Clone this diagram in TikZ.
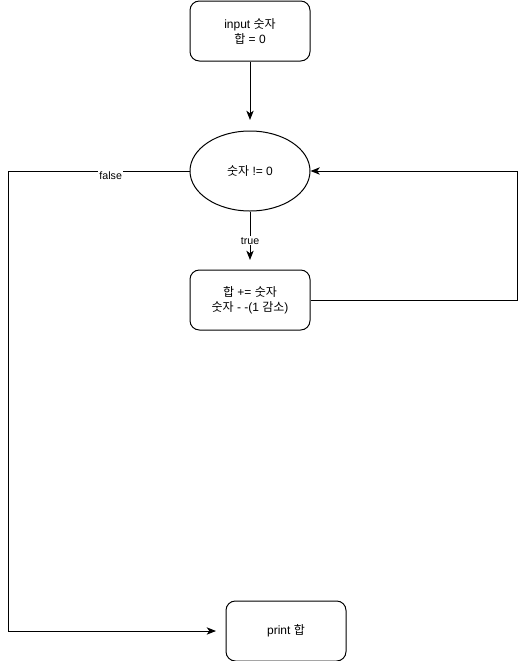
\documentclass[tikz,border=0pt]{standalone}
\usepackage{fontspec}
\setmainfont{Liberation Sans}
\newfontfamily\kr{Noto Sans CJK KR}
\usetikzlibrary{shapes.geometric,arrows.meta}

\begin{document}
\begin{tikzpicture}[x=0.75pt,y=0.75pt,yscale=-1,xscale=1,
  box/.style={draw,line width=0.75pt,rounded corners=7pt,minimum width=90pt,minimum height=45pt,inner sep=0pt,align=center,font=\fontsize{9}{11.25}\selectfont},
  test/.style={draw,line width=0.75pt,ellipse,minimum width=90pt,minimum height=60pt,inner sep=0pt,align=center,font=\fontsize{9}{11.25}\selectfont},
  flow/.style={line width=0.75pt,-{Stealth[length=7pt,width=5.5pt,inset=2pt]}},
  lbl/.style={fill=white,inner sep=1pt,font=\fontsize{8}{10}\selectfont}]
\useasboundingbox (0,0) rectangle (526,661);

\node [box] (start) at (250,31) {input {\kr 숫자}\\{\kr 합} = 0};
\node [test] (cond) at (250,171) {{\kr 숫자} != 0};
\node [box] (body) at (250,300) {{\kr 합} += {\kr 숫자}\\{\kr 숫자} - -(1 {\kr 감소})};
\node [box] (out) at (286,631) {print {\kr 합}};

\coordinate (a1) at (250,120);
\coordinate (a2) at (250,260);
\coordinate (a3) at (216,631);

\draw [flow] (start.south) -- (a1);
\draw [flow] (cond.south) -- node [lbl,pos=0.6] {true} (a2);
\draw [flow] (body.east) -- (517,300) -- (517,171) -- (cond.east);
\draw [flow] (cond.west) -- node [lbl,pos=0.434,yshift=-3.75pt] {false} (8,171) -- (8,631) -- (a3);
\end{tikzpicture}
\end{document}
